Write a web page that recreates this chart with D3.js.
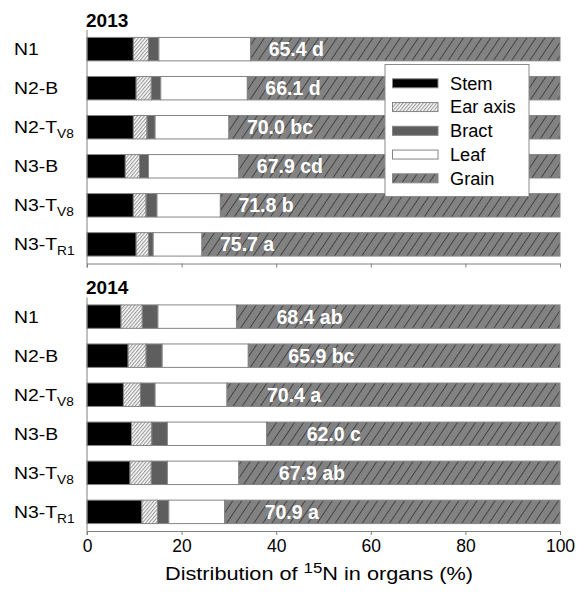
<!DOCTYPE html>
<html>
<head>
<meta charset="utf-8">
<script src="https://cdn.jsdelivr.net/npm/d3@7"></script>
<style>
  html, body { margin: 0; padding: 0; background: #fff; }
  svg { display: block; font-family: "Liberation Sans", Arial, sans-serif; }
</style>
</head>
<body>
<svg id="chart" width="578" height="593"></svg>
<script>
// Treatments (main label + subscript)
const catBase = ["N1", "N2-B", "N2-T", "N3-B", "N3-T", "N3-T"];
const catSub  = ["", "", "V8", "", "V8", "R1"];

const organs = ["Stem", "Ear axis", "Bract", "Leaf", "Grain"];
const years = ["2013", "2014"];

// Share of 15N recovered in each organ (%)
const stem2013    = [9.8, 10.4, 9.8, 8.1, 9.8, 10.4];
const earAxis2013 = [3.2, 3.2, 2.9, 3.0, 2.7, 2.6];
const bract2013   = [2.2, 2.0, 1.7, 1.9, 2.3, 1.0];
const leaf2013    = [19.4, 18.3, 15.6, 19.1, 13.4, 10.3];
const grain2013   = [65.4, 66.1, 70.0, 67.9, 71.8, 75.7];
const letters2013 = ["d", "d", "bc", "cd", "b", "a"];

const stem2014    = [7.2, 8.7, 7.7, 9.4, 9.1, 11.6];
const earAxis2014 = [4.5, 3.8, 3.6, 4.3, 4.5, 3.3];
const bract2014   = [3.3, 3.4, 3.1, 3.3, 3.4, 2.4];
const leaf2014    = [16.6, 18.2, 15.2, 21.0, 15.1, 11.8];
const grain2014   = [68.4, 65.9, 70.4, 62.0, 67.9, 70.9];
const letters2014 = ["ab", "bc", "a", "c", "ab", "a"];

const xTicks = [0, 20, 40, 60, 80, 100];

const svg = d3.select("#chart");
const FONT = '"Liberation Sans", Arial, sans-serif';

// hatch patterns
const defs = svg.append("defs");
const earPat = defs.append("pattern")
  .attr("id", "hatchEar").attr("patternUnits", "userSpaceOnUse")
  .attr("width", 2.6).attr("height", 10)
  .attr("patternTransform", "rotate(40)");
earPat.append("rect").attr("width", 2.6).attr("height", 10).attr("fill", "#ffffff");
earPat.append("line").attr("x1", 0.6).attr("y1", 0).attr("x2", 0.6).attr("y2", 10)
  .attr("stroke", "#8a8a8a").attr("stroke-width", 1);

const grainPat = defs.append("pattern")
  .attr("id", "hatchGrain").attr("patternUnits", "userSpaceOnUse")
  .attr("width", 7.5).attr("height", 20)
  .attr("patternTransform", "rotate(34)");
grainPat.append("rect").attr("width", 7.5).attr("height", 20).attr("fill", "#828282");
grainPat.append("line").attr("x1", 0.5).attr("y1", 0).attr("x2", 0.5).attr("y2", 20)
  .attr("stroke", "#3a3a3a").attr("stroke-width", 0.9);

const fills = ["#000000", "url(#hatchEar)", "#5e5e5e", "#ffffff", "url(#hatchGrain)"];
const keys = ["stem", "ear", "bract", "leaf", "grain"];

const x = d3.scaleLinear().domain([0, 100]).range([87, 560]);

const panels = [
  { year: years[0], top: 30, stem: stem2013, ear: earAxis2013, bract: bract2013,
    leaf: leaf2013, grain: grain2013, letters: letters2013, labelDx: 18, showTicks: false },
  { year: years[1], top: 297.5, stem: stem2014, ear: earAxis2014, bract: bract2014,
    leaf: leaf2014, grain: grain2014, letters: letters2014, labelDx: 40, showTicks: true }
];
const panelH = 233.5;

panels.forEach(p => {
  const rows = catBase.map((c, i) => ({
    idx: i, stem: p.stem[i], ear: p.ear[i], bract: p.bract[i], leaf: p.leaf[i], grain: p.grain[i]
  }));
  const y = d3.scaleBand().domain(d3.range(catBase.length))
    .range([p.top, p.top + panelH]).paddingInner(0.4).paddingOuter(0.19);

  const stacked = d3.stack().keys(keys)(rows);
  const g = svg.append("g");

  g.selectAll("g.layer").data(stacked).join("g")
    .attr("class", "layer")
    .attr("fill", (d, i) => fills[i])
    .selectAll("rect").data(d => d).join("rect")
      .attr("x", d => x(d[0]))
      .attr("width", d => x(d[1]) - x(d[0]))
      .attr("y", d => y(d.data.idx))
      .attr("height", y.bandwidth())
      .attr("stroke", "#858585").attr("stroke-width", 1);

  // grain value + significance letter
  g.selectAll("text.val").data(rows).join("text")
    .attr("class", "val")
    .attr("x", d => x(d.stem + d.ear + d.bract + d.leaf) + p.labelDx)
    .attr("y", d => y(d.idx) + y.bandwidth() / 2)
    .attr("dy", "0.36em")
    .attr("fill", "#ffffff").attr("font-weight", "bold").attr("font-size", 19.5)
    .attr("font-family", FONT)
    .text((d, i) => d.grain.toFixed(1) + " " + p.letters[i]);

  // treatment labels (slightly widened type)
  const lab = g.selectAll("g.cat").data(rows).join("g")
    .attr("class", "cat")
    .attr("transform", d => `translate(14,${y(d.idx) + y.bandwidth() / 2}) scale(1.14,1)`)
    .append("text")
    .attr("dy", "0.36em")
    .attr("font-size", 17).attr("fill", "#000").attr("font-family", FONT);
  lab.append("tspan").text(d => catBase[d.idx]);
  lab.append("tspan").attr("font-size", 12).attr("dy", 5)
    .text(d => catSub[d.idx]);

  // year heading
  svg.append("text").attr("x", 86).attr("y", p.top - 3.5)
    .attr("font-weight", "bold").attr("font-size", 19).attr("font-family", FONT)
    .text(p.year);

  // axes
  const bottom = p.top + panelH;
  const xAxis = d3.axisBottom(x).tickValues(xTicks).tickSizeInner(4).tickSizeOuter(0)
    .tickPadding(5);
  if (!p.showTicks) xAxis.tickFormat("");
  const ax = svg.append("g").attr("transform", `translate(0,${bottom})`).call(xAxis);
  ax.select(".domain").attr("stroke", "#808080");
  ax.selectAll(".tick line").attr("stroke", "#808080");
  ax.selectAll(".tick text").attr("font-size", 17.5).attr("font-family", FONT).attr("fill", "#000");

  svg.append("line")
    .attr("x1", x(0)).attr("x2", x(0))
    .attr("y1", p.top).attr("y2", bottom + 4)
    .attr("stroke", "#808080").attr("stroke-width", 1);
});

// x-axis title
const title = svg.append("text")
  .attr("x", 165).attr("y", 580)
  .attr("font-size", 18).attr("font-family", FONT)
  .attr("textLength", 308).attr("lengthAdjust", "spacingAndGlyphs");
title.append("tspan").text("Distribution of ");
title.append("tspan").attr("font-size", 14).attr("dy", -7).text("15");
title.append("tspan").attr("dy", 7).text("N in organs (%)");

// legend
const lg = svg.append("g");
lg.append("rect").attr("x", 385).attr("y", 64.5).attr("width", 144).attr("height", 132)
  .attr("fill", "#ffffff").attr("stroke", "#8a8a8a").attr("stroke-width", 1);
const ly = d3.scalePoint().domain(organs).range([83.3, 178.3]);
lg.selectAll("rect.sw").data(organs).join("rect")
  .attr("class", "sw")
  .attr("x", 392.5).attr("y", d => ly(d) - 4.5).attr("width", 45.5).attr("height", 9)
  .attr("fill", (d, i) => fills[i]).attr("stroke", "#858585").attr("stroke-width", 1);
lg.selectAll("g.lt").data(organs).join("g")
  .attr("class", "lt")
  .attr("transform", d => `translate(450,${ly(d)}) scale(1.04,1)`)
  .append("text").attr("dy", "0.36em")
  .attr("font-size", 17.5).attr("font-family", FONT).text(d => d);
</script>
</body>
</html>
